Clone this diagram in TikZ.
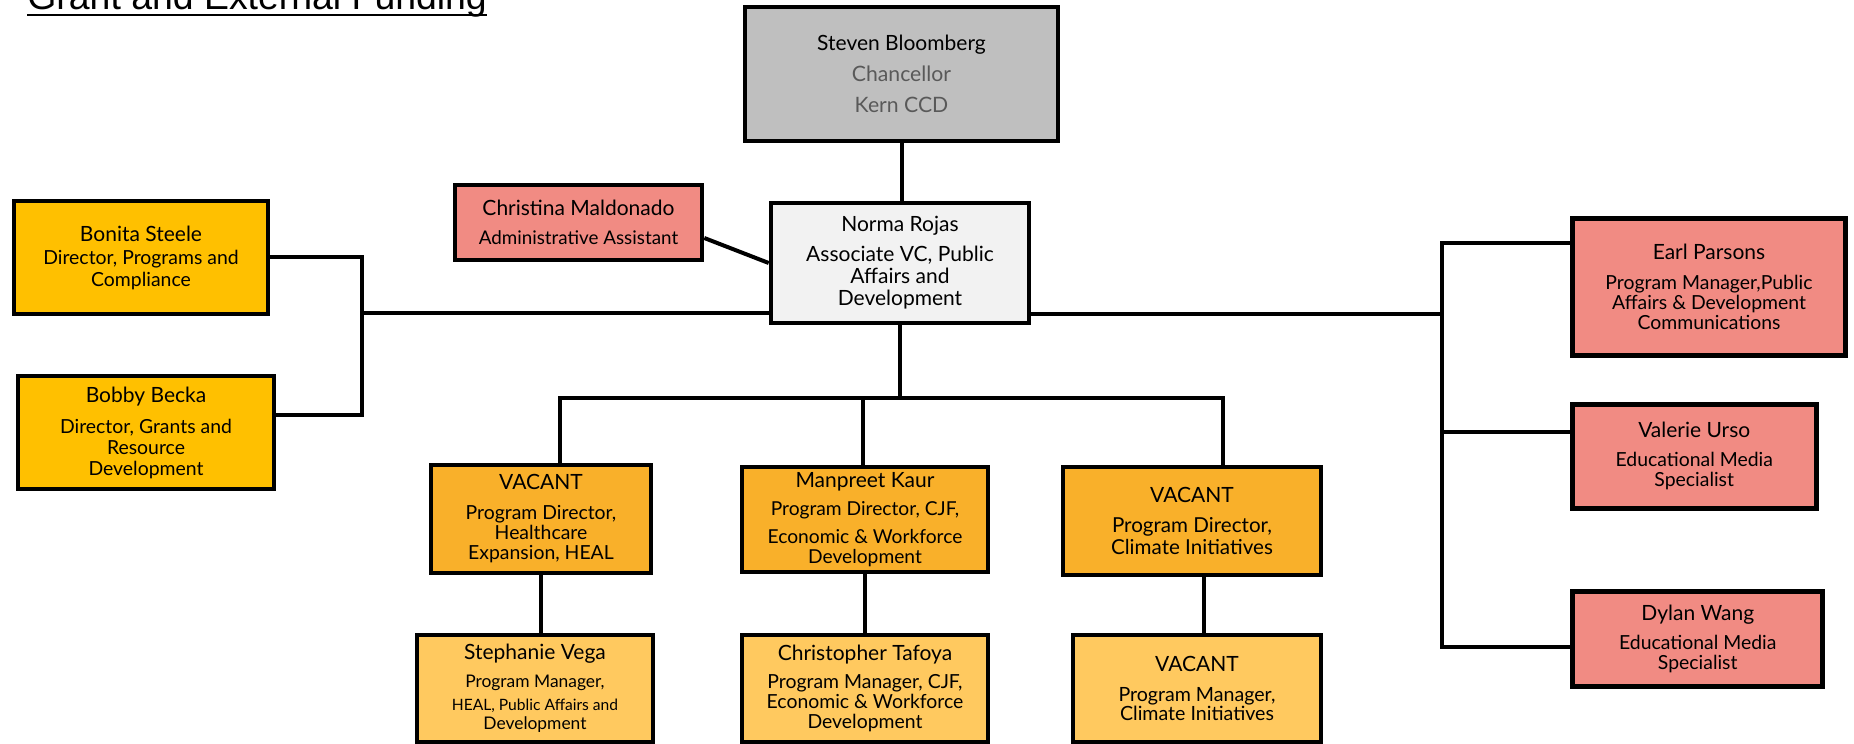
\documentclass[tikz,border=0pt]{standalone}
\usepackage{fontspec}
\setmainfont{Lato}
\newfontfamily\titlefont{Liberation Sans}
\definecolor{chancgray}{HTML}{BFBFBF}
\definecolor{vcgray}{HTML}{F2F2F2}
\definecolor{salmon}{HTML}{F18B83}
\definecolor{gold}{HTML}{FFC000}
\definecolor{amber}{HTML}{F9B02A}
\definecolor{lightamber}{HTML}{FFC95F}
\definecolor{subgray}{HTML}{595959}

\def\nm#1{{\fontsize{10.5}{13}\selectfont #1}}
\def\stelle#1#2#3#4#5#6{
	\node[unit,#2,minimum width=#4pt,minimum height=#5pt] (#1) at #3 {#6};
}

\tikzset{
	unit/.style={draw,line width=2.3pt,align=center,inner sep=0pt,font=\fontsize{9.7}{10.3}\selectfont},
	link/.style={line width=2pt},
}

\begin{document}
\begin{tikzpicture}[x=0.5pt,y=-0.5pt]
\useasboundingbox (0,0) rectangle (1854,744);
\node[anchor=base west,inner sep=0pt,font=\titlefont\fontsize{18.7}{20}\selectfont] (title) at (27,10) {Grant and External Funding};
\draw[line width=1pt] ([yshift=-2.5pt]title.base west) -- ([yshift=-2.5pt]title.base east);
\stelle{steven}{fill=chancgray,font=\fontsize{10.6}{15.5}\selectfont}{(901.5,74)}{156.5}{67}{\nm{Steven Bloomberg}\\ \textcolor{subgray}{Chancellor}\\ \textcolor{subgray}{Kern CCD}}
\stelle{norma}{fill=vcgray,font=\fontsize{10.5}{11}\selectfont}{(900,263)}{129}{60}{Norma Rojas\\[4pt] Associate VC, Public\\ Affairs and\\ Development}
\stelle{christina}{fill=salmon,font=\fontsize{9.4}{10.5}\selectfont}{(578.5,222.5)}{123.5}{37.5}{\nm{Christina Maldonado}\\[4pt] Administrative Assistant}
\stelle{bonita}{fill=gold,font=\fontsize{9.7}{11}\selectfont}{(141,257.5)}{127}{56.5}{\nm{Bonita Steele}\\[0.5pt] Director, Programs and\\ Compliance}
\stelle{bobby}{fill=gold,font=\fontsize{9.7}{10.5}\selectfont}{(146,432.5)}{128}{56.5}{\nm{Bobby Becka}\\[5pt] Director, Grants and\\ Resource\\ Development}
\stelle{earl}{fill=salmon,font=\fontsize{9.7}{10.1}\selectfont}{(1709,287)}{136.7}{68.7}{\nm{Earl Parsons}\\[4.6pt] Program Manager,Public\\ Affairs \& Development\\ Communications}
\stelle{valerie}{fill=salmon,font=\fontsize{9.7}{10}\selectfont}{(1694.25,456.3)}{122}{52}{\nm{Valerie Urso}\\[4.4pt] Educational Media\\ Specialist}
\stelle{dylan}{fill=salmon,font=\fontsize{9.7}{10}\selectfont}{(1697.75,639)}{125}{47.7}{\nm{Dylan Wang}\\[4.4pt] Educational Media\\ Specialist}
\stelle{vacheal}{fill=amber,font=\fontsize{9.7}{10}\selectfont}{(541,519)}{110}{54}{\nm{VACANT}\\[5pt] Program Director,\\ Healthcare\\ Expansion, HEAL}
\stelle{manpreet}{fill=amber,font=\fontsize{9.6}{10}\selectfont}{(865,519.5)}{123}{52.5}{\nm{Manpreet Kaur}\\[4pt] Program Director, CJF,\\[4pt] Economic \& Workforce\\ Development}
\stelle{vacclim}{fill=amber,font=\fontsize{10.3}{11.3}\selectfont}{(1192,521)}{129}{54}{\nm{VACANT}\\[3.7pt] Program Director,\\ Climate Initiatives}
\stelle{stephanie}{fill=lightamber,font=\fontsize{8.7}{9.5}\selectfont}{(535,688.5)}{118}{53.5}{\nm{Stephanie Vega}\\[4.5pt] Program Manager,\\[2pt] {\fontsize{7.8}{9}\selectfont HEAL, Public Affairs and}\\ Development}
\stelle{christopher}{fill=lightamber,font=\fontsize{9.7}{10}\selectfont}{(865,688.5)}{123}{53.5}{\nm{Christopher Tafoya}\\[4pt] Program Manager, CJF,\\ Economic \& Workforce\\ Development}
\stelle{vacclimpm}{fill=lightamber,font=\fontsize{9.8}{9.5}\selectfont}{(1197,688.5)}{124}{53.5}{\nm{VACANT}\\[5.5pt] Program Manager,\\ Climate Initiatives}
\coordinate (l1) at (362,257);
\coordinate (l2) at (362,415);
\coordinate (lj) at (362,313);
\coordinate (rj) at (1441.5,314);
\coordinate (r1) at (1441.5,243);
\coordinate (r2) at (1441.5,432);
\coordinate (r3) at (1441.5,647);
\coordinate (h1) at (560,398);
\coordinate (h2) at (863,398);
\coordinate (h3) at (1223,398);
\draw[link] (steven.south) -- (steven.south |- norma.north);
\draw[link] ([yshift=-7.75pt]christina.east) -- (norma.west);
\draw[link] (l1 -| bonita.east) -- (l1) -- (l2) -- (l2 -| bobby.east);
\draw[link] (lj) -- (lj -| norma.west);
\draw[link] (norma.east |- rj) -- (rj);
\draw[link] (r1 -| earl.west) -- (r1) -- (r3) -- (r3 -| dylan.west);
\draw[link] (r2) -- (r2 -| valerie.west);
\draw[link] (norma.south) -- (norma.south |- h2);
\draw[link] (vacheal.north -| h1) -- (h1) -- (h3) -- (vacclim.north -| h3);
\draw[link] (h2) -- (manpreet.north -| h2);
\draw[link] (vacheal.south) -- (vacheal.south |- stephanie.north);
\draw[link] (manpreet.south) -- (christopher.north);
\draw[link] ([xshift=6pt]vacclim.south) -- ([xshift=6pt]vacclim.south |- vacclimpm.north);
\end{tikzpicture}
\end{document}
